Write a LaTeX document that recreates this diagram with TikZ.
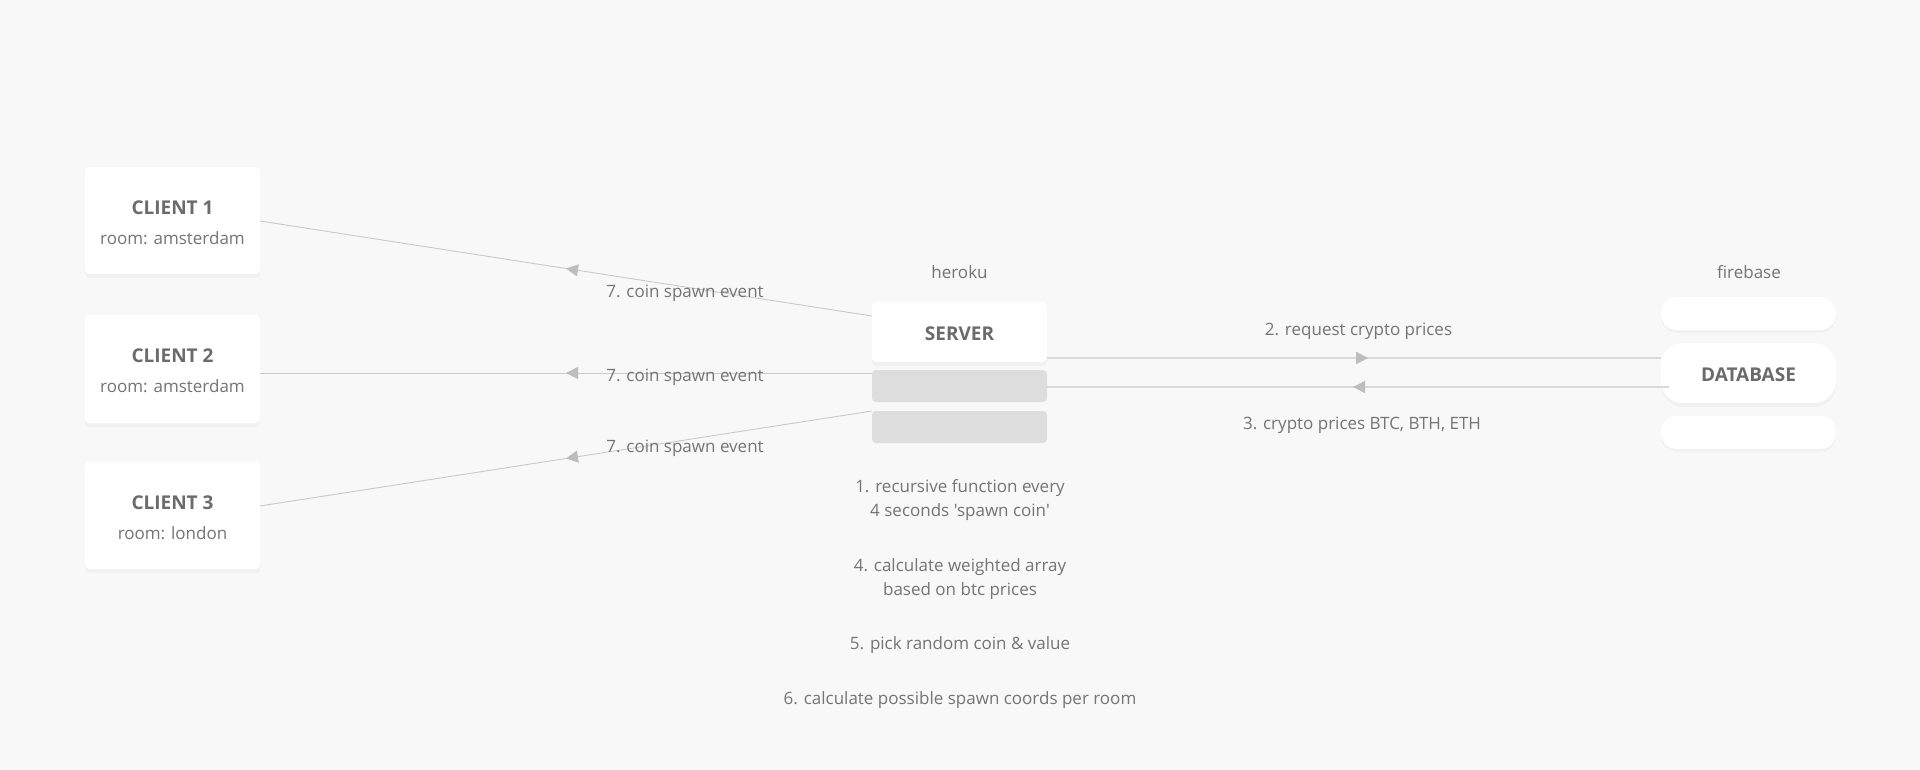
\documentclass[tikz,border=0pt]{standalone}
\usepackage{fontspec}
\newfontfamily\osans{Open Sans}
\usetikzlibrary{arrows.meta,decorations.markings,shadows}
\definecolor{bg}{HTML}{F8F8F8}
\definecolor{txt}{HTML}{747474}
\definecolor{ttl}{HTML}{6B6B6B}
\definecolor{lineA}{HTML}{C9C9C9}
\definecolor{lineB}{HTML}{D9D9D9}
\definecolor{arr}{HTML}{BDBDBD}
\definecolor{slot}{HTML}{DDDDDD}
\tikzset{
  card/.style={fill=white, draw=none, rounded corners=4pt, inner sep=0,
    drop shadow={opacity=0.05, shadow xshift=0pt, shadow yshift=-4pt}},
  slotbox/.style={fill=slot, draw=none, rounded corners=4pt, inner sep=0,
    minimum width=175pt, minimum height=32pt},
  pill/.style={fill=white, draw=none, rounded corners=16pt, inner sep=0,
    minimum width=175pt, minimum height=33pt,
    drop shadow={opacity=0.05, shadow xshift=0pt, shadow yshift=-3pt}},
  ttltext/.style={text=ttl, font=\osans\fontsize{19}{22}\selectfont\bfseries, inner sep=0, text height=15pt, text depth=0pt},
  lbl/.style={text=txt, font=\osans\fontsize{17}{24}\selectfont, inner sep=0, text height=15pt, text depth=3pt},
  mlbl/.style={text=txt, font=\osans\fontsize{17}{24}\selectfont, inner sep=0, align=center},
  conn/.style={draw=lineA, line width=0.9pt},
  connB/.style={draw=lineB, line width=1.5pt},
  midarrow/.style={postaction={decorate}, decoration={markings,
    mark=at position #1 with {\arrow{Triangle[length=12pt,width=12pt,color=arr]}}}}
}
\begin{document}
\begin{tikzpicture}[x=1pt,y=-1pt]
\useasboundingbox (0,0) rectangle (1920,770);
\fill[bg] (0,0) rectangle (1920,770);

% clients
\node[card, minimum width=175pt, minimum height=107pt] (c1) at (172.5,220.5) {};
\node[card, minimum width=175pt, minimum height=108pt] (c2) at (172.5,369) {};
\node[card, minimum width=175pt, minimum height=107pt] (c3) at (172.5,515.5) {};
\node[ttltext] (c1t) at (172.5,207) {CLIENT 1};
\node[lbl] (c1r) at (172.5,238) {room: amsterdam};
\node[ttltext] (c2t) at (172.5,355) {CLIENT 2};
\node[lbl] (c2r) at (172.5,386) {room: amsterdam};
\node[ttltext] (c3t) at (172.5,502) {CLIENT 3};
\node[lbl] (c3r) at (172.5,533) {room: london};

% server
\node[lbl] (heroku) at (959.5,272) {heroku};
\node[card, minimum width=175pt, minimum height=60pt] (srv) at (959.5,332) {};
\node[ttltext] (srvt) at (959.5,333) {SERVER};
\node[slotbox] (s1) at (959.5,386) {};
\node[slotbox] (s2) at (959.5,427) {};

% database
\node[lbl] (fire) at (1749,272) {firebase};
\node[pill] (d0) at (1748.5,313.5) {};
\node[card, rounded corners=22pt, minimum width=175pt, minimum height=60pt] (db) at (1748.5,373) {};
\node[ttltext] (dbt) at (1748.5,374) {DATABASE};
\node[pill] (d2) at (1748.5,432.5) {};

% endpoints
\coordinate (p1s) at (872,316);
\coordinate (p2s) at (872,373);
\coordinate (p3s) at (872,411);
\coordinate (p1c) at (260,221);
\coordinate (p2c) at (260,373);
\coordinate (p3c) at (260,506);
\coordinate (r2a) at (1047,358);
\coordinate (r2b) at (1661,358);
\coordinate (r3a) at (1669,387);
\coordinate (r3b) at (1047,387);

\draw[conn, midarrow=0.5] (p1s) -- (p1c);
\draw[conn, midarrow=0.5] (p2s) -- (p2c);
\draw[conn, midarrow=0.5] (p3s) -- (p3c);
\draw[connB, midarrow=0.523] (r2a) -- (r2b);
\draw[connB, midarrow=0.508] (r3a) -- (r3b);

\node[lbl] (l1) at (685,292) {7. coin spawn event};
\node[lbl] (l2) at (685,375) {7. coin spawn event};
\node[lbl] (l3) at (685,446) {7. coin spawn event};
\node[lbl] (l4) at (1358.5,329) {2. request crypto prices};
\node[lbl] (l5) at (1362,423) {3. crypto prices BTC, BTH, ETH};

% notes
\node[mlbl] (n1) at (960,500.5) {1. recursive function every\\4 seconds 'spawn coin'};
\node[mlbl] (n4) at (960,579.5) {4. calculate weighted array\\based on btc prices};
\node[lbl] (n5) at (960,643) {5. pick random coin \& value};
\node[lbl] (n6) at (960,698) {6. calculate possible spawn coords per room};
\end{tikzpicture}
\end{document}
